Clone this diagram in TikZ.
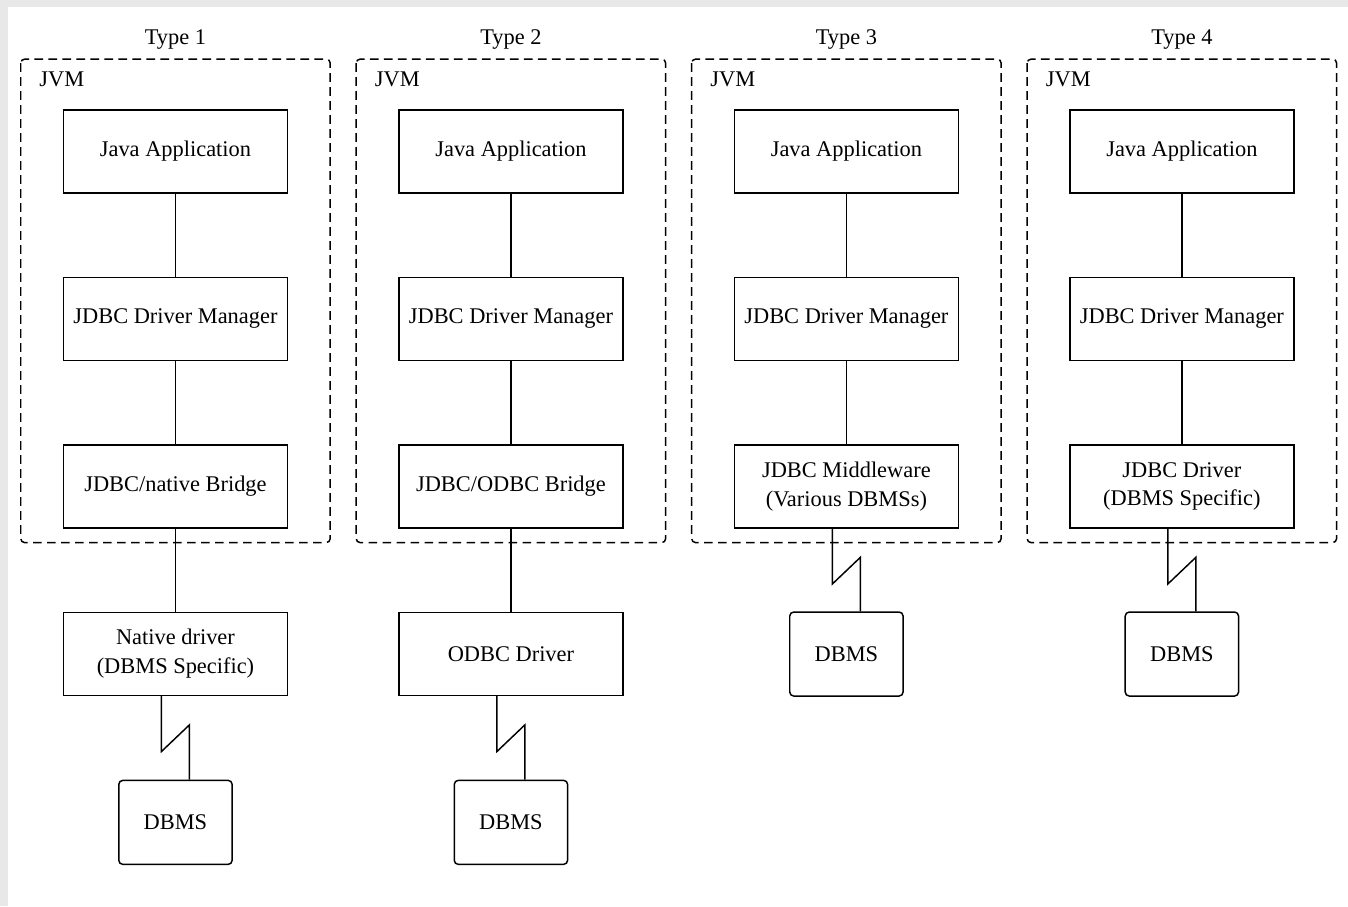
\documentclass[tikz,border=0pt]{standalone}
\usepackage{fontspec}
\setmainfont{Liberation Serif}
\usetikzlibrary{calc,
positioning}

\tikzset{
	layer/.style={draw, minimum width=168pt, minimum height=62.25pt, align=center, inner sep=2pt},
	dbms/.style={layer, minimum width=85pt, minimum height=63pt, rounded corners=3pt},
	jvmframe/.style={draw, dash pattern=on 6.5pt off 4pt, rounded corners=3pt},
	netlink/.style={to path={([xshift=-10.5pt]\tikztostart.south) -- ++(0,-41.5pt) -- ++(21pt,20pt) -- ([xshift=10.5pt]\tikztotarget.north)}}
}

\begin{document}
\begin{tikzpicture}[
				node distance=62.3pt,
				line width=1.1pt,
				font=\fontsize{16.8}{21.5}\selectfont
			]
				\fill[black!9] (0,0) rectangle (1011pt,-679.5pt);
				\fill[white] (6pt,-5.25pt) rectangle (1011pt,-679.5pt);
				\useasboundingbox (0,0) rectangle (1011pt,-679.5pt);

				% Type 1
				\node [layer] (app1) at (131.6pt,-113.5pt) {Java Application};
				\node [layer, below=of app1] (mgr1) {JDBC Driver Manager};
				\node [layer, below=of mgr1] (bridge1) {JDBC/native Bridge};
				\node [layer, below=of bridge1] (native1) {Native driver\\(DBMS Specific)};
				\node [dbms, below=62.6pt of native1] (db1) {DBMS};

				% Type 2
				\node [layer, right=82.5pt of app1] (app2) {Java Application};
				\node [layer, below=of app2] (mgr2) {JDBC Driver Manager};
				\node [layer, below=of mgr2] (bridge2) {JDBC/ODBC Bridge};
				\node [layer, below=of bridge2] (odbc2) {ODBC Driver};
				\node [dbms, below=62.6pt of odbc2] (db2) {DBMS};

				% Type 3
				\node [layer, right=82.5pt of app2] (app3) {Java Application};
				\node [layer, below=of app3] (mgr3) {JDBC Driver Manager};
				\node [layer, below=of mgr3] (mid3) {JDBC Middleware\\(Various DBMSs)};
				\node [dbms, below=62pt of mid3] (db3) {DBMS};

				% Type 4
				\node [layer, right=82.5pt of app3] (app4) {Java Application};
				\node [layer, below=of app4] (mgr4) {JDBC Driver Manager};
				\node [layer, below=of mgr4] (drv4) {JDBC Driver\\(DBMS Specific)};
				\node [dbms, below=62pt of drv4] (db4) {DBMS};

				% JVM frames and titles
				\draw [jvmframe] ($(app1.north west)+(-31.5pt,37.5pt)$) rectangle ($(bridge1.south east)+(31.5pt,-10.5pt)$);
				\draw [jvmframe] ($(app2.north west)+(-31.5pt,37.5pt)$) rectangle ($(bridge2.south east)+(31.5pt,-10.5pt)$);
				\draw [jvmframe] ($(app3.north west)+(-31.5pt,37.5pt)$) rectangle ($(mid3.south east)+(31.5pt,-10.5pt)$);
				\draw [jvmframe] ($(app4.north west)+(-31.5pt,37.5pt)$) rectangle ($(drv4.south east)+(31.5pt,-10.5pt)$);
				\node [anchor=south west, inner sep=0pt] (jvm1) at ($(app1.north west)+(-18pt,16.5pt)$) {JVM};
				\node [anchor=south west, inner sep=0pt] (jvm2) at ($(app2.north west)+(-18pt,16.5pt)$) {JVM};
				\node [anchor=south west, inner sep=0pt] (jvm3) at ($(app3.north west)+(-18pt,16.5pt)$) {JVM};
				\node [anchor=south west, inner sep=0pt] (jvm4) at ($(app4.north west)+(-18pt,16.5pt)$) {JVM};
				\node [anchor=base] (type1) at ($(app1.north)+(0,48.75pt)$) {Type 1};
				\node [anchor=base] (type2) at ($(app2.north)+(0,48.75pt)$) {Type 2};
				\node [anchor=base] (type3) at ($(app3.north)+(0,48.75pt)$) {Type 3};
				\node [anchor=base] (type4) at ($(app4.north)+(0,48.75pt)$) {Type 4};

				\path[draw]
					(app1) edge (mgr1)
					(mgr1) edge (bridge1)
					(bridge1) edge (native1)
					(app2) edge (mgr2)
					(mgr2) edge (bridge2)
					(bridge2) edge (odbc2)
					(app3) edge (mgr3)
					(mgr3) edge (mid3)
					(app4) edge (mgr4)
					(mgr4) edge (drv4);
				\draw (native1) to[netlink] (db1);
				\draw (odbc2) to[netlink] (db2);
				\draw (mid3) to[netlink] (db3);
				\draw (drv4) to[netlink] (db4);
			\end{tikzpicture}
\end{document}
